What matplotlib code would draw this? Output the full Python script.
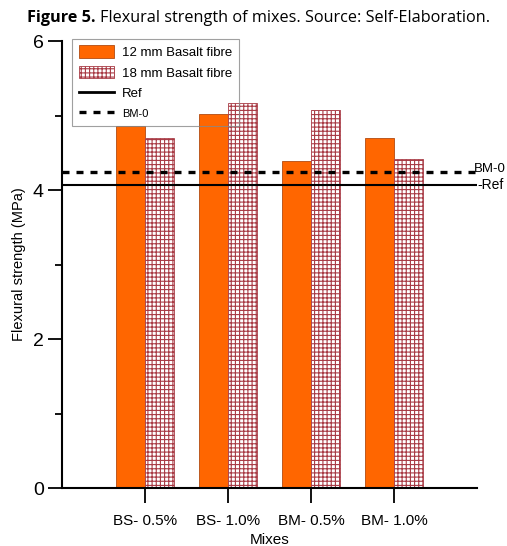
import numpy as np
import matplotlib
matplotlib.use('Agg')
import matplotlib.pyplot as plt
from matplotlib.lines import Line2D
from matplotlib.patches import Patch
from matplotlib.ticker import MultipleLocator

# Data.
mixes = ['BS- 0.5%', 'BS- 1.0%', 'BM- 0.5%', 'BM- 1.0%']
fibre_12mm = [4.86, 5.02, 4.39, 4.70]
fibre_18mm = [4.70, 5.17, 5.08, 4.42]
ref_value = 4.07
bm0_value = 4.24

plt.rcParams['font.family'] = ['Liberation Sans', 'DejaVu Sans']
plt.rcParams['hatch.linewidth'] = 0.8

orange = '#ff6600'
hatch_col = '#a83a44'
dash = (0, (2.1, 2.1))

fig = plt.figure(figsize=(5.07, 5.46), dpi=100)
ax = fig.add_axes([0.1223, 0.1062, 0.8185, 0.8187])

x = np.arange(1, len(mixes) + 1)
w = 0.35
ax.bar(x - w/2, fibre_12mm, w, color=orange, edgecolor='#b24a10', linewidth=0.6)
ax.bar(x + w/2, fibre_18mm, w, color='white', edgecolor=hatch_col, hatch='++++', linewidth=0.6)

ax.axhline(ref_value, color='black', lw=1.5)
ax.axhline(bm0_value, color='black', lw=2.4, ls=dash)

ax.set_xlim(0, 5)
ax.set_ylim(0, 6)
ax.set_xticks(x)
ax.set_xticklabels(mixes, fontsize=11)
ax.yaxis.set_major_locator(MultipleLocator(2))
ax.yaxis.set_minor_locator(MultipleLocator(1))
ax.tick_params(axis='y', which='major', direction='out', length=10, width=1.3, labelsize=14, pad=3)
ax.tick_params(axis='y', which='minor', direction='out', length=5, width=1.3)
ax.tick_params(axis='x', direction='out', length=11, width=1.3, pad=7.5)
for s in ['top', 'right']:
    ax.spines[s].set_visible(False)
for s in ['left', 'bottom']:
    ax.spines[s].set_linewidth(1.5)

ax.set_ylabel('Flexural strength (MPa)', fontsize=10.5, labelpad=5)
ax.set_xlabel('Mixes', fontsize=11, labelpad=4)

# Line labels at the right end.
ax.text(4.965, bm0_value + 0.04, 'BM-0', fontsize=9.5, va='center', ha='left', clip_on=False)
ax.text(5.0, ref_value, '-Ref', fontsize=10, va='center', ha='left', clip_on=False)

handles = [
    Patch(facecolor=orange, edgecolor='#b24a10', linewidth=0.6),
    Patch(facecolor='white', edgecolor=hatch_col, hatch='++++', linewidth=0.6),
    Line2D([], [], color='black', lw=2),
    Line2D([], [], color='black', lw=2.4, ls=dash),
]
labels = ['12 mm Basalt fibre', '18 mm Basalt fibre', 'Ref', 'BM-0']
leg = ax.legend(handles, labels, loc='upper left', bbox_to_anchor=(0.024, 1.005),
                borderaxespad=0, fontsize=9.5, frameon=True, fancybox=False,
                edgecolor='#888888', handlelength=2.7, handleheight=1.1,
                labelspacing=0.5, borderpad=0.5, handletextpad=0.6)
leg.get_frame().set_linewidth(0.8)
leg.get_frame().set_facecolor('none')
leg.get_texts()[3].set_fontsize(8)

# Caption above the chart: bold label then plain text.
t1 = fig.text(27 / 507, 1 - 18 / 546, 'Figure 5.', fontsize=11.7, fontweight='bold',
              family=['Open Sans', 'DejaVu Sans'], va='center')
fig.canvas.draw()
bb = t1.get_window_extent()
fig.text((bb.x1 + 4) / 507, 1 - 18 / 546,
         'Flexural strength of mixes. Source: Self-Elaboration.',
         fontsize=11.7, family=['Open Sans', 'DejaVu Sans'], va='center')

fig.savefig('out.png', dpi=100)
